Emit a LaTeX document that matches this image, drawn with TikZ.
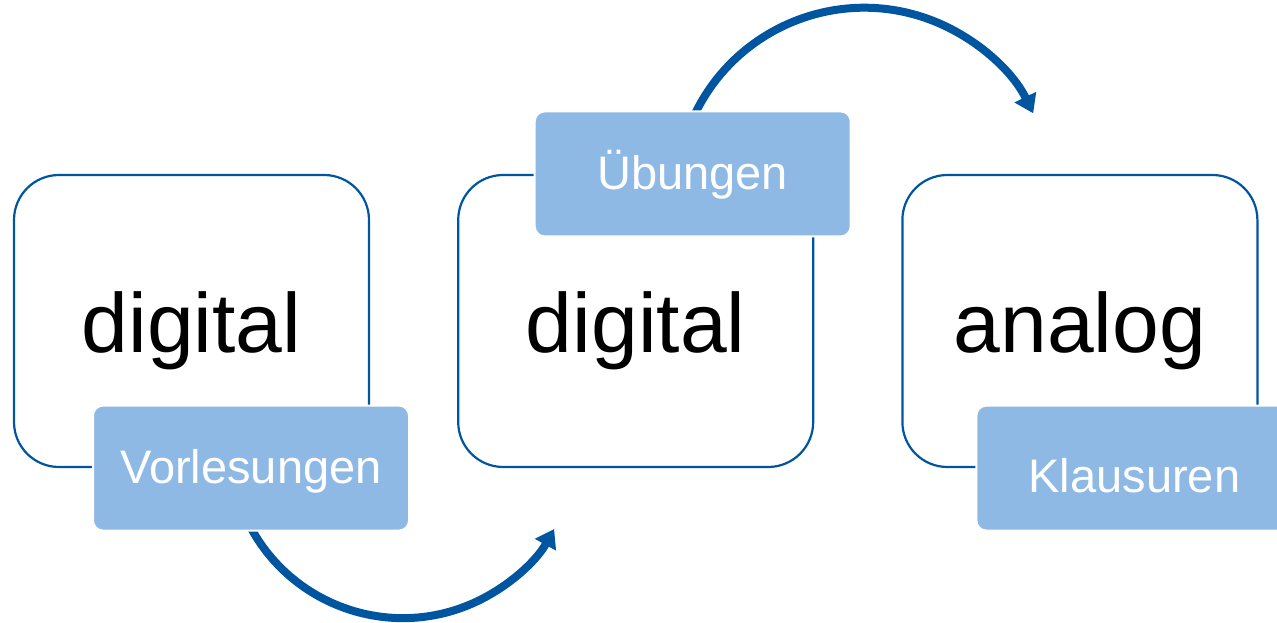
\documentclass[tikz,border=0pt]{standalone}
\usepackage{fontspec}
\setmainfont{Liberation Sans}
\usepackage{tikz}
\usetikzlibrary{arrows.meta,positioning,calc,backgrounds}

\definecolor{darkblue}{RGB}{0,85,160}
\definecolor{lightblue}{RGB}{143,185,229}

\begin{document}
\begin{tikzpicture}[x=1pt,y=1pt,>={Triangle[length=18pt,width=23pt]},
                    node distance=87pt,
                    stage/.style={draw=darkblue,line width=2.2pt,rounded corners=45pt,
                      minimum width=355pt,minimum height=292pt,
                      font=\fontsize{84}{100}\selectfont,text height=70pt,text depth=6pt},
                    tag/.style={fill=lightblue,draw=white,line width=2pt,rounded corners=10pt,
                      minimum width=316pt,minimum height=125pt,text=white,
                      font=\fontsize{47}{56}\selectfont,text height=38pt,text depth=7pt},
                    flow/.style={->,draw=darkblue,line width=8pt}]
%  \tikzstyle{every node}=[inner sep=0pt]
  \clip (0,0) rectangle (1277,623);

  \node[stage]         (D1) at (191.5,302)    {digital};
  \node[stage]         (D2) [right=of D1]     {digital};
  \node[stage]         (A3) [right=of D2]     {analog};

  \node[tag]           (vorl) at ([xshift=59.5pt]D1.south) {Vorlesungen};
  \node[tag]           (ueb)  at ([xshift=57pt]D2.north)   {Übungen};
  \node[tag,text height=48pt,text depth=0pt]
                       (klaus) at ([xshift=54.5pt]A3.south) {Klausuren};

  \coordinate (ctrA) at ($(vorl.south)+(2,0)+(30:173)$);
  \coordinate (ctrB) at ($(ueb.north)+(4,0)+(-27:188)$);

  \begin{scope}[on background layer]
    \draw[flow] ($(ctrA)+(205:173)$) arc[start angle=205,end angle=331,radius=173];
    \draw[flow] ($(ctrB)+(158:188)$) arc[start angle=158,end angle=26,radius=188];
  \end{scope}

\end{tikzpicture}
\end{document}
